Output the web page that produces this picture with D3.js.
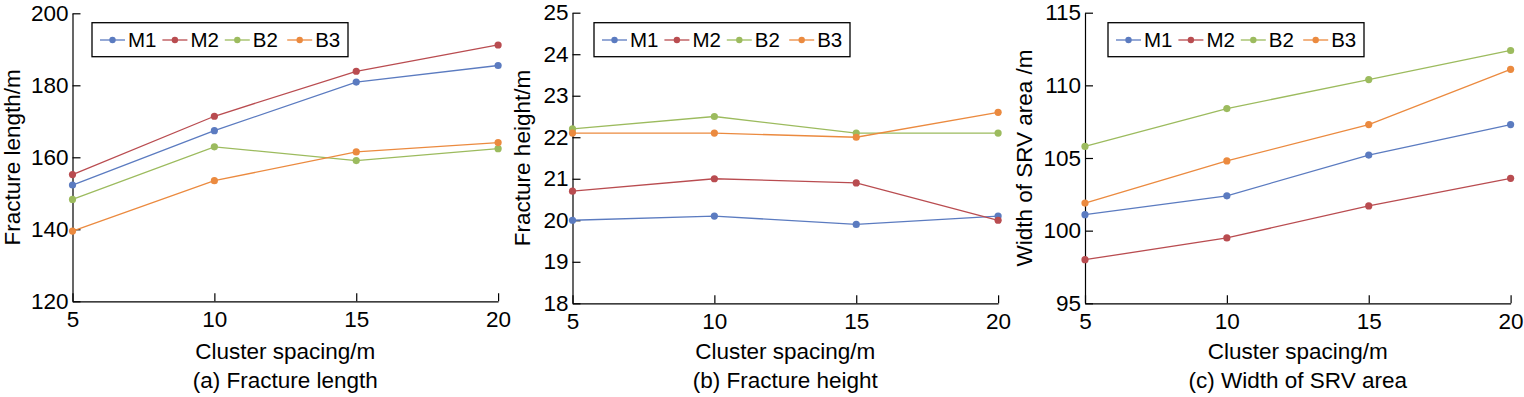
<!DOCTYPE html>
<html>
<head>
<meta charset="utf-8">
<script src="https://cdn.jsdelivr.net/npm/d3@7"></script>
<style>
  body { margin: 0; background: #fff; }
  svg { display: block; }
  text { font-family: "Liberation Sans", Arial, sans-serif; fill: #000; }
</style>
</head>
<body>
<div id="chart-area"></div>
<script>
// data
var spacing = [5, 10, 15, 20];
var seriesNames = ["M1", "M2", "B2", "B3"];
var colors = ["#5b7bc0", "#b94c50", "#9cbb5e", "#eb8a3f"];

var lengthM1 = [152.3, 167.4, 180.9, 185.5];
var lengthM2 = [155.2, 171.4, 183.9, 191.2];
var lengthB2 = [148.3, 162.9, 159.1, 162.4];
var lengthB3 = [139.5, 153.5, 161.5, 164.1];

var heightM1 = [20.0, 20.1, 19.9, 20.1];
var heightM2 = [20.7, 21.0, 20.9, 20.0];
var heightB2 = [22.2, 22.5, 22.1, 22.1];
var heightB3 = [22.1, 22.1, 22.0, 22.6];

var widthM1 = [101.1, 102.4, 105.2, 107.3];
var widthM2 = [98.0, 99.5, 101.7, 103.6];
var widthB2 = [105.8, 108.4, 110.4, 112.4];
var widthB3 = [101.9, 104.8, 107.3, 111.1];

var lengthTicks = [120, 140, 160, 180, 200];
var heightTicks = [18, 19, 20, 21, 22, 23, 24, 25];
var widthTicks = [95, 100, 105, 110, 115];

var panels = [
    {left: 72.5, top: 13.3, bottom: 301.3, legendX: 92, yTitleX: 12.5,
     yLabel: "Fracture length/m", caption: "(a) Fracture length",
     ticks: lengthTicks, series: [lengthM1, lengthM2, lengthB2, lengthB3]},
    {left: 572.5, top: 12.7, bottom: 303.3, legendX: 594, yTitleX: 522.5,
     yLabel: "Fracture height/m", caption: "(b) Fracture height",
     ticks: heightTicks, series: [heightM1, heightM2, heightB2, heightB3]},
    {left: 1085, top: 12.7, bottom: 303.3, legendX: 1108, yTitleX: 1024,
     yLabel: "Width of SRV area /m", caption: "(c) Width of SRV area",
     ticks: widthTicks, series: [widthM1, widthM2, widthB2, widthB3]}
];

var chartWidth = 425.6;
var svg = d3.select("#chart-area").append("svg").attr("width", 1524).attr("height", 397);

panels.forEach(function(p) {
    var x = d3.scaleLinear().domain([5, 20]).range([p.left, p.left + chartWidth]);
    var y = d3.scaleLinear().domain(d3.extent(p.ticks)).range([p.bottom, p.top]);

    var g = svg.append("g");

    // axes, ticks pointing inwards
    var xAxis = d3.axisBottom(x).tickValues(spacing).tickFormat(d3.format("d"))
        .tickSizeInner(-8).tickSizeOuter(0);
    var xg = g.append("g").attr("transform", "translate(0," + p.bottom + ")").call(xAxis);
    xg.selectAll("text").attr("font-size", "22.5px").attr("dy", "0.72em").attr("y", 10);

    var yAxis = d3.axisLeft(y).tickValues(p.ticks).tickFormat(d3.format("d"))
        .tickSizeInner(-8).tickSizeOuter(0);
    var yg = g.append("g").attr("transform", "translate(" + p.left + ",0)").call(yAxis);
    yg.selectAll("text").attr("font-size", "22.5px").attr("x", -4);

    g.selectAll(".domain, .tick line").attr("stroke", "#000").attr("stroke-width", 1.2);
    g.selectAll(".tick text").attr("fill", "#000").attr("font-family", "Liberation Sans, Arial, sans-serif");

    // titles
    g.append("text").attr("x", p.left + chartWidth / 2).attr("y", 359).attr("text-anchor", "middle")
        .attr("font-size", "22.5px").text("Cluster spacing/m");
    g.append("text").attr("x", p.left + chartWidth / 2).attr("y", 388).attr("text-anchor", "middle")
        .attr("font-size", "22.5px").text(p.caption);
    g.append("text").attr("transform", "translate(" + p.yTitleX + "," + ((p.top + p.bottom) / 2) + ") rotate(-90)")
        .attr("text-anchor", "middle").attr("dy", "0.35em").attr("font-size", "22.5px").text(p.yLabel);

    // lines and markers
    var line = d3.line().x(function(d, i) { return x(spacing[i]); }).y(function(d) { return y(d); });
    p.series.forEach(function(values, k) {
        g.append("path").datum(values).attr("d", line).attr("fill", "none")
            .attr("stroke", colors[k]).attr("stroke-width", 1.3);
        g.selectAll(".pt" + k).data(values).enter().append("circle")
            .attr("cx", function(d, i) { return x(spacing[i]); })
            .attr("cy", function(d) { return y(d); })
            .attr("r", 3.6).attr("fill", colors[k]);
    });

    // legend
    var lg = g.append("g").attr("transform", "translate(" + p.legendX + ",22.7)");
    lg.append("rect").attr("width", 256).attr("height", 34).attr("fill", "#fff")
        .attr("stroke", "#000").attr("stroke-width", 1.3);
    seriesNames.forEach(function(name, k) {
        var ox = 8 + k * 62.4;
        lg.append("line").attr("x1", ox).attr("x2", ox + 25).attr("y1", 17.3).attr("y2", 17.3)
            .attr("stroke", colors[k]).attr("stroke-width", 1.3);
        lg.append("circle").attr("cx", ox + 12.5).attr("cy", 17.3).attr("r", 3.2).attr("fill", colors[k]);
        lg.append("text").attr("x", ox + 28).attr("y", 24.6).attr("font-size", "20.5px").text(name);
    });
});
</script>
</body>
</html>
